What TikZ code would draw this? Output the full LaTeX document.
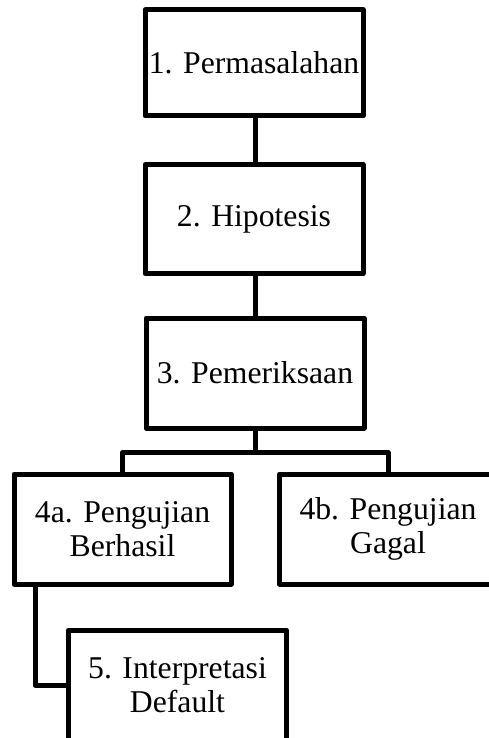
\documentclass[tikz,border=0pt]{standalone}
\usepackage{fontspec}
\setmainfont{Liberation Serif}
\begin{document}
\begin{tikzpicture}[x=1pt,y=-1pt,
  box/.style={draw=black, line width=5pt, line join=round, rectangle, fill=white,
    minimum width=218pt, minimum height=108pt, inner sep=0pt, align=center,
    font=\fontsize{31.7}{34}\selectfont},
  link/.style={draw=black, line width=5pt, line join=round}]
\useasboundingbox (0,0) rectangle (489,738);
\clip (0,0) rectangle (489,738);
\node[box, minimum height=106pt] (p1) at (254,63) {1. Permasalahan};
\node[box, minimum height=109pt] (p2) at (254,219) {2. Hipotesis};
\node[box, minimum height=110pt] (p3) at (255,373) {3. Pemeriksaan};
\node[box, minimum width=217pt, minimum height=110pt] (p4a) at (122.5,529) {4a. Pengujian\\Berhasil};
\node[box, minimum width=217pt, minimum height=110pt] (p4b) at (388,529) {4b. Pengujian\\Gagal};
\node[box, minimum height=110pt] (p5) at (177.5,685) {5. Interpretasi\\Default};
\coordinate (j) at (255,452.5);
\path[link] (p1.south -| 255,0) -- (p2.north -| 255,0);
\path[link] (p2.south -| 255,0) -- (p3.north -| 255,0);
\path[link] (p3.south) -- (j);
\path[link] (p4a.north) -- (p4a.north |- j) -- (p4b.north |- j) -- (p4b.north);
\path[link] (p4a.south -| 35,0) |- (p5.west);
\end{tikzpicture}
\end{document}
